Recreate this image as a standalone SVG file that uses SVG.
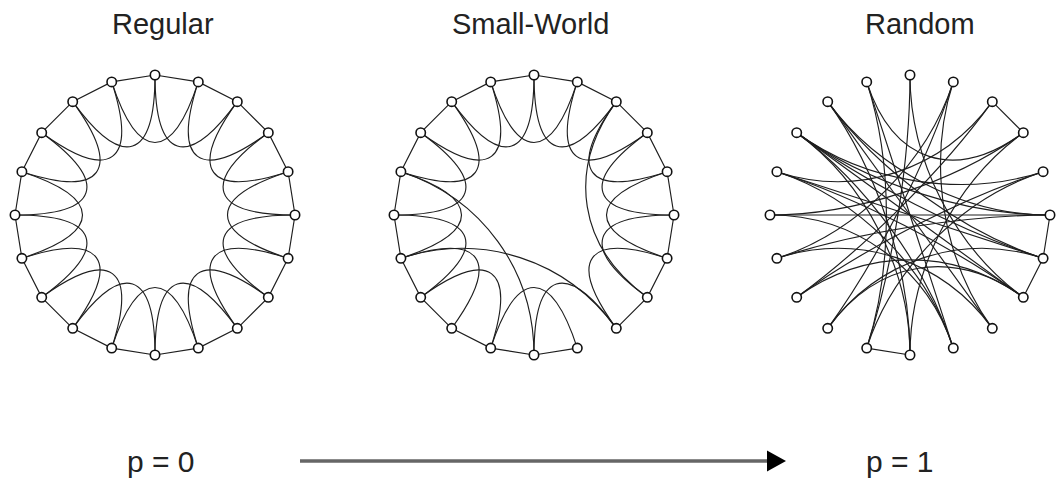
<svg xmlns="http://www.w3.org/2000/svg" width="1062" height="487" viewBox="0 0 1062 487">
<style>
.e{fill:none;stroke:#1e1e1e;stroke-width:1.15}
.n{fill:#fff;stroke:#111;stroke-width:1.6}
.t{font-family:"Liberation Sans",Arial,sans-serif;font-size:29px;fill:#222}
.p{font-family:"Liberation Sans",Arial,sans-serif;font-size:30px;fill:#222}
</style>
<defs>
<circle id="nd" r="4.7" class="n"/>
</defs>
<rect width="1062" height="487" fill="#fff"/>
<text class="t" x="112" y="34">Regular</text>
<text class="t" x="452" y="34">Small-World</text>
<text class="t" x="865" y="34">Random</text>
<text class="p" x="127" y="472">p = 0</text>
<text class="p" x="866" y="472">p = 1</text>

<g id="connectors">
<g id="regular-edges" transform="translate(155,215)">
<polygon class="e" points="0,-140 43.3,-133.1 82.3,-113.3 113.3,-82.3 133.1,-43.3 140,0 133.1,43.3 113.3,82.3 82.3,113.3 43.3,133.1 0,140 -43.3,133.1 -82.3,113.3 -113.3,82.3 -133.1,43.3 -140,0 -133.1,-43.3 -113.3,-82.3 -82.3,-113.3 -43.3,-133.1"/>
<path class="e" d="M0,-140 C0,-55 32.3,-44.5 82.3,-113.3"/>
<path class="e" d="M43.3,-133.1 C17,-52.3 44.5,-32.3 113.3,-82.3"/>
<path class="e" d="M82.3,-113.3 C32.3,-44.5 52.3,-17 133.1,-43.3"/>
<path class="e" d="M113.3,-82.3 C44.5,-32.3 55,0 140,0"/>
<path class="e" d="M133.1,-43.3 C52.3,-17 52.3,17 133.1,43.3"/>
<path class="e" d="M140,0 C55,0 44.5,32.3 113.3,82.3"/>
<path class="e" d="M133.1,43.3 C52.3,17 32.3,44.5 82.3,113.3"/>
<path class="e" d="M113.3,82.3 C44.5,32.3 17,52.3 43.3,133.1"/>
<path class="e" d="M82.3,113.3 C32.3,44.5 0,55 0,140"/>
<path class="e" d="M43.3,133.1 C17,52.3 -17,52.3 -43.3,133.1"/>
<path class="e" d="M0,140 C0,55 -32.3,44.5 -82.3,113.3"/>
<path class="e" d="M-43.3,133.1 C-17,52.3 -44.5,32.3 -113.3,82.3"/>
<path class="e" d="M-82.3,113.3 C-32.3,44.5 -52.3,17 -133.1,43.3"/>
<path class="e" d="M-113.3,82.3 C-44.5,32.3 -55,0 -140,0"/>
<path class="e" d="M-133.1,43.3 C-52.3,17 -52.3,-17 -133.1,-43.3"/>
<path class="e" d="M-140,0 C-55,0 -44.5,-32.3 -113.3,-82.3"/>
<path class="e" d="M-133.1,-43.3 C-52.3,-17 -32.3,-44.5 -82.3,-113.3"/>
<path class="e" d="M-113.3,-82.3 C-44.5,-32.3 -17,-52.3 -43.3,-133.1"/>
<path class="e" d="M-82.3,-113.3 C-32.3,-44.5 0,-55 0,-140"/>
<path class="e" d="M-43.3,-133.1 C-17,-52.3 17,-52.3 43.3,-133.1"/>
</g>
<g id="smallworld-edges" transform="translate(534,215)">
<polyline class="e" points="43.3,133.1 0,140 -43.3,133.1 -82.3,113.3 -113.3,82.3 -133.1,43.3 -140,0 -133.1,-43.3 -113.3,-82.3 -82.3,-113.3 -43.3,-133.1 0,-140 43.3,-133.1 82.3,-113.3 113.3,-82.3 133.1,-43.3 140,0 133.1,43.3 113.3,82.3 82.3,113.3"/>
<path class="e" d="M0,-140 C0,-55 32.3,-44.5 82.3,-113.3"/>
<path class="e" d="M43.3,-133.1 C17,-52.3 44.5,-32.3 113.3,-82.3"/>
<path class="e" d="M82.3,-113.3 C32.3,-44.5 52.3,-17 133.1,-43.3"/>
<path class="e" d="M113.3,-82.3 C44.5,-32.3 55,0 140,0"/>
<path class="e" d="M133.1,-43.3 C52.3,-17 52.3,17 133.1,43.3"/>
<path class="e" d="M140,0 C55,0 44.5,32.3 113.3,82.3"/>
<path class="e" d="M133.1,43.3 C52.3,17 32.3,44.5 82.3,113.3"/>
<path class="e" d="M82.3,113.3 C32.3,44.5 0,55 0,140"/>
<path class="e" d="M43.3,133.1 C17,52.3 -17,52.3 -43.3,133.1"/>
<path class="e" d="M-43.3,133.1 C-17,52.3 -44.5,32.3 -113.3,82.3"/>
<path class="e" d="M-82.3,113.3 C-32.3,44.5 -52.3,17 -133.1,43.3"/>
<path class="e" d="M-113.3,82.3 C-44.5,32.3 -55,0 -140,0"/>
<path class="e" d="M-133.1,43.3 C-52.3,17 -52.3,-17 -133.1,-43.3"/>
<path class="e" d="M-140,0 C-55,0 -44.5,-32.3 -113.3,-82.3"/>
<path class="e" d="M-133.1,-43.3 C-52.3,-17 -32.3,-44.5 -82.3,-113.3"/>
<path class="e" d="M-113.3,-82.3 C-44.5,-32.3 -17,-52.3 -43.3,-133.1"/>
<path class="e" d="M-82.3,-113.3 C-32.3,-44.5 0,-55 0,-140"/>
<path class="e" d="M-43.3,-133.1 C-17,-52.3 17,-52.3 43.3,-133.1"/>
<path class="e" d="M82.3,-113.3 C32.3,-44.5 44.5,32.3 113.3,82.3"/>
<path class="e" d="M82.3,113.3 C32.3,44.5 -52.3,17 -133.1,43.3"/>
<path class="e" d="M-133.1,-43.3 C-52.3,-17 0,55 0,140"/>
</g>
<g id="random-edges" transform="translate(910,215)">
<path class="e" d="M82.3,-113.3 L113.3,-82.3"/>
<path class="e" d="M140,0 L133.1,43.3 L113.3,82.3"/>
<path class="e" d="M0,140 L-43.3,133.1"/>
<path class="e" d="M0,-140 C0,-55 -17,52.3 -43.3,133.1"/>
<path class="e" d="M0,-140 C0,-55 44.5,32.3 113.3,82.3"/>
<path class="e" d="M43.3,-133.1 C17,-52.3 -32.3,44.5 -82.3,113.3"/>
<path class="e" d="M43.3,-133.1 C17,-52.3 32.3,44.5 82.3,113.3"/>
<path class="e" d="M43.3,-133.1 C17,-52.3 -52.3,17 -133.1,43.3"/>
<path class="e" d="M82.3,-113.3 C32.3,-44.5 -44.5,32.3 -113.3,82.3"/>
<path class="e" d="M82.3,-113.3 C32.3,-44.5 -52.3,-17 -133.1,-43.3"/>
<path class="e" d="M113.3,-82.3 C44.5,-32.3 -17,-52.3 -43.3,-133.1"/>
<path class="e" d="M113.3,-82.3 C44.5,-32.3 0,55 0,140"/>
<path class="e" d="M113.3,-82.3 C44.5,-32.3 -55,0 -140,0"/>
<path class="e" d="M133.1,-43.3 C52.3,-17 -44.5,32.3 -113.3,82.3"/>
<path class="e" d="M133.1,-43.3 C52.3,-17 -44.5,-32.3 -113.3,-82.3"/>
<path class="e" d="M133.1,-43.3 C52.3,-17 -17,52.3 -43.3,133.1"/>
<path class="e" d="M140,0 C55,0 -55,0 -140,0"/>
<path class="e" d="M140,0 C55,0 -44.5,-32.3 -113.3,-82.3"/>
<path class="e" d="M140,0 C55,0 -52.3,17 -133.1,43.3"/>
<path class="e" d="M133.1,43.3 C52.3,17 -52.3,-17 -133.1,-43.3"/>
<path class="e" d="M133.1,43.3 C52.3,17 -44.5,-32.3 -113.3,-82.3"/>
<path class="e" d="M133.1,43.3 C52.3,17 -32.3,-44.5 -82.3,-113.3"/>
<path class="e" d="M133.1,43.3 C52.3,17 -32.3,44.5 -82.3,113.3"/>
<path class="e" d="M113.3,82.3 C44.5,32.3 -44.5,-32.3 -113.3,-82.3"/>
<path class="e" d="M113.3,82.3 C44.5,32.3 -52.3,-17 -133.1,-43.3"/>
<path class="e" d="M113.3,82.3 C44.5,32.3 -44.5,32.3 -113.3,82.3"/>
<path class="e" d="M82.3,113.3 C32.3,44.5 -32.3,-44.5 -82.3,-113.3"/>
<path class="e" d="M43.3,133.1 C17,52.3 -17,-52.3 -43.3,-133.1"/>
<path class="e" d="M43.3,133.1 C17,52.3 -44.5,-32.3 -113.3,-82.3"/>
<path class="e" d="M43.3,133.1 C17,52.3 -55,0 -140,0"/>
<path class="e" d="M0,140 C0,55 -32.3,-44.5 -82.3,-113.3"/>
<path class="e" d="M0,140 C0,55 -44.5,-32.3 -113.3,-82.3"/>
<path class="e" d="M-133.1,-43.3 C-52.3,-17 17,52.3 43.3,133.1"/>
<path class="e" d="M-43.3,-133.1 C-17,-52.3 -17,52.3 -43.3,133.1"/>
<path class="e" d="M-82.3,-113.3 C-32.3,-44.5 55,0 140,0"/>
<path class="e" d="M-82.3,113.3 C-32.3,44.5 44.5,32.3 113.3,82.3"/>
<path class="e" d="M-133.1,43.3 C-52.3,17 32.3,44.5 82.3,113.3"/>
</g>
<g id="axis-arrow">
<line x1="300" y1="461" x2="770" y2="461" stroke="#666" stroke-width="3.5"/>
<polygon points="767,450.5 786,461 767,471.5" fill="#000"/>
</g>
</g>

<g id="regular-nodes" transform="translate(155,215)">
<g id="r0"><use href="#nd" x="0" y="-140"/></g>
<g id="r1"><use href="#nd" x="43.3" y="-133.1"/></g>
<g id="r2"><use href="#nd" x="82.3" y="-113.3"/></g>
<g id="r3"><use href="#nd" x="113.3" y="-82.3"/></g>
<g id="r4"><use href="#nd" x="133.1" y="-43.3"/></g>
<g id="r5"><use href="#nd" x="140" y="0"/></g>
<g id="r6"><use href="#nd" x="133.1" y="43.3"/></g>
<g id="r7"><use href="#nd" x="113.3" y="82.3"/></g>
<g id="r8"><use href="#nd" x="82.3" y="113.3"/></g>
<g id="r9"><use href="#nd" x="43.3" y="133.1"/></g>
<g id="r10"><use href="#nd" x="0" y="140"/></g>
<g id="r11"><use href="#nd" x="-43.3" y="133.1"/></g>
<g id="r12"><use href="#nd" x="-82.3" y="113.3"/></g>
<g id="r13"><use href="#nd" x="-113.3" y="82.3"/></g>
<g id="r14"><use href="#nd" x="-133.1" y="43.3"/></g>
<g id="r15"><use href="#nd" x="-140" y="0"/></g>
<g id="r16"><use href="#nd" x="-133.1" y="-43.3"/></g>
<g id="r17"><use href="#nd" x="-113.3" y="-82.3"/></g>
<g id="r18"><use href="#nd" x="-82.3" y="-113.3"/></g>
<g id="r19"><use href="#nd" x="-43.3" y="-133.1"/></g>
</g>
<g id="smallworld-nodes" transform="translate(534,215)">
<g id="s0"><use href="#nd" x="0" y="-140"/></g>
<g id="s1"><use href="#nd" x="43.3" y="-133.1"/></g>
<g id="s2"><use href="#nd" x="82.3" y="-113.3"/></g>
<g id="s3"><use href="#nd" x="113.3" y="-82.3"/></g>
<g id="s4"><use href="#nd" x="133.1" y="-43.3"/></g>
<g id="s5"><use href="#nd" x="140" y="0"/></g>
<g id="s6"><use href="#nd" x="133.1" y="43.3"/></g>
<g id="s7"><use href="#nd" x="113.3" y="82.3"/></g>
<g id="s8"><use href="#nd" x="82.3" y="113.3"/></g>
<g id="s9"><use href="#nd" x="43.3" y="133.1"/></g>
<g id="s10"><use href="#nd" x="0" y="140"/></g>
<g id="s11"><use href="#nd" x="-43.3" y="133.1"/></g>
<g id="s12"><use href="#nd" x="-82.3" y="113.3"/></g>
<g id="s13"><use href="#nd" x="-113.3" y="82.3"/></g>
<g id="s14"><use href="#nd" x="-133.1" y="43.3"/></g>
<g id="s15"><use href="#nd" x="-140" y="0"/></g>
<g id="s16"><use href="#nd" x="-133.1" y="-43.3"/></g>
<g id="s17"><use href="#nd" x="-113.3" y="-82.3"/></g>
<g id="s18"><use href="#nd" x="-82.3" y="-113.3"/></g>
<g id="s19"><use href="#nd" x="-43.3" y="-133.1"/></g>
</g>
<g id="random-nodes" transform="translate(910,215)">
<g id="q0"><use href="#nd" x="0" y="-140"/></g>
<g id="q1"><use href="#nd" x="43.3" y="-133.1"/></g>
<g id="q2"><use href="#nd" x="82.3" y="-113.3"/></g>
<g id="q3"><use href="#nd" x="113.3" y="-82.3"/></g>
<g id="q4"><use href="#nd" x="133.1" y="-43.3"/></g>
<g id="q5"><use href="#nd" x="140" y="0"/></g>
<g id="q6"><use href="#nd" x="133.1" y="43.3"/></g>
<g id="q7"><use href="#nd" x="113.3" y="82.3"/></g>
<g id="q8"><use href="#nd" x="82.3" y="113.3"/></g>
<g id="q9"><use href="#nd" x="43.3" y="133.1"/></g>
<g id="q10"><use href="#nd" x="0" y="140"/></g>
<g id="q11"><use href="#nd" x="-43.3" y="133.1"/></g>
<g id="q12"><use href="#nd" x="-82.3" y="113.3"/></g>
<g id="q13"><use href="#nd" x="-113.3" y="82.3"/></g>
<g id="q14"><use href="#nd" x="-133.1" y="43.3"/></g>
<g id="q15"><use href="#nd" x="-140" y="0"/></g>
<g id="q16"><use href="#nd" x="-133.1" y="-43.3"/></g>
<g id="q17"><use href="#nd" x="-113.3" y="-82.3"/></g>
<g id="q18"><use href="#nd" x="-82.3" y="-113.3"/></g>
<g id="q19"><use href="#nd" x="-43.3" y="-133.1"/></g>
</g>
</svg>
